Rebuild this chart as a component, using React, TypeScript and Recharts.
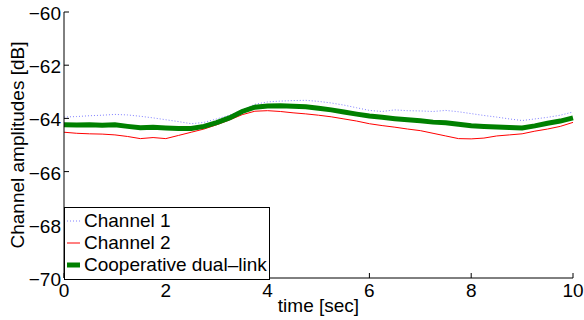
import { Legend, Line, LineChart, XAxis, YAxis } from "recharts";

const TIME = [
  0, 0.25, 0.5, 0.75, 1, 1.25, 1.5, 1.75, 2, 2.25, 2.5, 2.75, 3, 3.25, 3.5, 3.75, 4, 4.25, 4.5, 4.75, 5,
  5.25, 5.5, 5.75, 6, 6.25, 6.5, 6.75, 7, 7.25, 7.5, 7.75, 8, 8.25, 8.5, 8.75, 9, 9.25, 9.5, 9.75, 10,
];

const CHANNEL_1 = [
  -63.95, -63.93, -63.9, -63.88, -63.85, -63.87, -63.92, -63.98, -64.05, -64.12, -64.2, -64.15, -64.02,
  -63.88, -63.68, -63.47, -63.38, -63.35, -63.33, -63.32, -63.36, -63.42, -63.5, -63.6, -63.7, -63.74,
  -63.68, -63.71, -63.72, -63.74, -63.7, -63.75, -63.82, -63.89, -63.95, -64.02, -64.08, -64.02, -63.96,
  -63.88, -63.76,
];

const CHANNEL_2 = [
  -64.52, -64.56, -64.58, -64.59, -64.62, -64.68, -64.76, -64.72, -64.76, -64.64, -64.52, -64.4, -64.24,
  -64.06, -63.86, -63.73, -63.71, -63.74, -63.79, -63.83, -63.88, -63.94, -64.02, -64.1, -64.2, -64.27,
  -64.33, -64.4, -64.46, -64.56, -64.66, -64.76, -64.77, -64.74, -64.66, -64.62, -64.58, -64.48, -64.4,
  -64.3, -64.15,
];

const COOPERATIVE = [
  -64.24, -64.25, -64.24, -64.26, -64.24, -64.3, -64.35, -64.33, -64.36, -64.38, -64.38, -64.3, -64.16,
  -63.98, -63.74, -63.58, -63.53, -63.52, -63.54, -63.56, -63.62, -63.68, -63.76, -63.84, -63.91, -63.96,
  -64.01, -64.05, -64.09, -64.14, -64.16, -64.22, -64.28, -64.3, -64.32, -64.34, -64.36, -64.28, -64.18,
  -64.1, -63.98,
];

const X_TICKS = [0, 2, 4, 6, 8, 10];
const Y_TICKS = [-70, -68, -66, -64, -62, -60];

const data = TIME.map((t, i) => ({ t, ch1: CHANNEL_1[i], ch2: CHANNEL_2[i], coop: COOPERATIVE[i] }));

const SERIES = [
  { key: "ch1", name: "Channel 1", color: "#8080ff", width: 1, dash: "1 2" },
  { key: "ch2", name: "Channel 2", color: "#ff0000", width: 1, dash: undefined },
  { key: "coop", name: "Cooperative dual\u2013link", color: "#008000", width: 5, dash: undefined },
];

const FONT = '"Liberation Sans", Arial, Helvetica, sans-serif';
const fmt = (v: number) => String(v).replace("-", "\u2212");

// ticks point inward, like the original box axes
const BottomTick = ({ x, y, payload }: any) => (
  <g>
    <line x1={x} y1={y} x2={x} y2={y - 5} stroke="#000" />
    <text x={x} y={y + 19} textAnchor="middle" fontSize={19} fontFamily={FONT} fill="#000">
      {fmt(payload.value)}
    </text>
  </g>
);

const TopTick = ({ x, y }: any) => <line x1={x} y1={y} x2={x} y2={y + 5} stroke="#000" />;

const LeftTick = ({ x, y, payload }: any) => (
  <g>
    <line x1={x} y1={y} x2={x + 5} y2={y} stroke="#000" />
    <text x={x - 3} y={y + 8} textAnchor="end" fontSize={19} fontFamily={FONT} fill="#000">
      {fmt(payload.value)}
    </text>
  </g>
);

const RightTick = ({ x, y }: any) => <line x1={x} y1={y} x2={x - 5} y2={y} stroke="#000" />;

const YLabel = ({ viewBox }: any) => {
  const cy = viewBox.y + viewBox.height / 2;
  return (
    <text transform={`translate(24, ${cy}) rotate(-90)`} textAnchor="middle" fontSize={19} fontFamily={FONT} fill="#000">
      Channel amplitudes [dB]
    </text>
  );
};

const XLabel = ({ viewBox }: any) => (
  <text x={viewBox.x + viewBox.width / 2} y={viewBox.y + 34} textAnchor="middle" fontSize={19} fontFamily={FONT} fill="#000">
    time [sec]
  </text>
);

const LegendBox = () => (
  <div
    style={{
      width: 204,
      height: 69,
      border: "1px solid #000",
      background: "#fff",
      fontFamily: FONT,
      fontSize: 19,
      paddingTop: 2,
      boxSizing: "content-box",
    }}
  >
    {SERIES.map((s) => (
      <div key={s.key} style={{ display: "flex", alignItems: "center", height: 22 }}>
        <svg width={19} height={10} style={{ flex: "none" }}>
          <line x1={2} y1={5} x2={15} y2={5} stroke={s.color} strokeWidth={s.width} strokeDasharray={s.dash} />
        </svg>
        <span style={{ lineHeight: "22px", whiteSpace: "nowrap" }}>{s.name}</span>
      </div>
    ))}
  </div>
);

export default function App() {
  return (
    <div style={{ position: "absolute", left: 0, top: 0, width: 584, height: 320, background: "#fff" }}>
      <LineChart width={584} height={320} data={data} margin={{ top: 12, right: 11, left: 0, bottom: 0 }}>
        <XAxis
          dataKey="t"
          type="number"
          domain={[0, 10]}
          ticks={X_TICKS}
          height={42}
          tickSize={0}
          tickMargin={0}
          tickLine={false}
          axisLine={{ stroke: "#000" }}
          tick={<BottomTick />}
          label={<XLabel />}
          interval={0}
        />
        <XAxis
          xAxisId="top"
          orientation="top"
          dataKey="t"
          type="number"
          domain={[0, 10]}
          ticks={X_TICKS}
          height={0}
          tickSize={0}
          tickMargin={0}
          tickLine={false}
          axisLine={{ stroke: "#000" }}
          tick={<TopTick />}
          interval={0}
        />
        <YAxis
          type="number"
          domain={[-70, -60]}
          ticks={Y_TICKS}
          width={64}
          tickSize={0}
          tickMargin={0}
          tickLine={false}
          axisLine={{ stroke: "#000" }}
          tick={<LeftTick />}
          label={<YLabel />}
          interval={0}
          allowDataOverflow
        />
        <YAxis
          yAxisId="right"
          orientation="right"
          type="number"
          domain={[-70, -60]}
          ticks={Y_TICKS}
          width={0}
          tickSize={0}
          tickMargin={0}
          tickLine={false}
          axisLine={{ stroke: "#000" }}
          tick={<RightTick />}
          interval={0}
          allowDataOverflow
        />
        {SERIES.map((s) => (
          <Line
            key={s.key}
            dataKey={s.key}
            name={s.name}
            type="linear"
            stroke={s.color}
            strokeWidth={s.width}
            strokeDasharray={s.dash}
            dot={false}
            activeDot={false}
            isAnimationActive={false}
          />
        ))}
        <Legend
          layout="vertical"
          align="center"
          verticalAlign="middle"
          content={<LegendBox />}
          wrapperStyle={{ left: 64, top: 207, width: "auto", height: "auto" }}
        />
      </LineChart>
    </div>
  );
}
